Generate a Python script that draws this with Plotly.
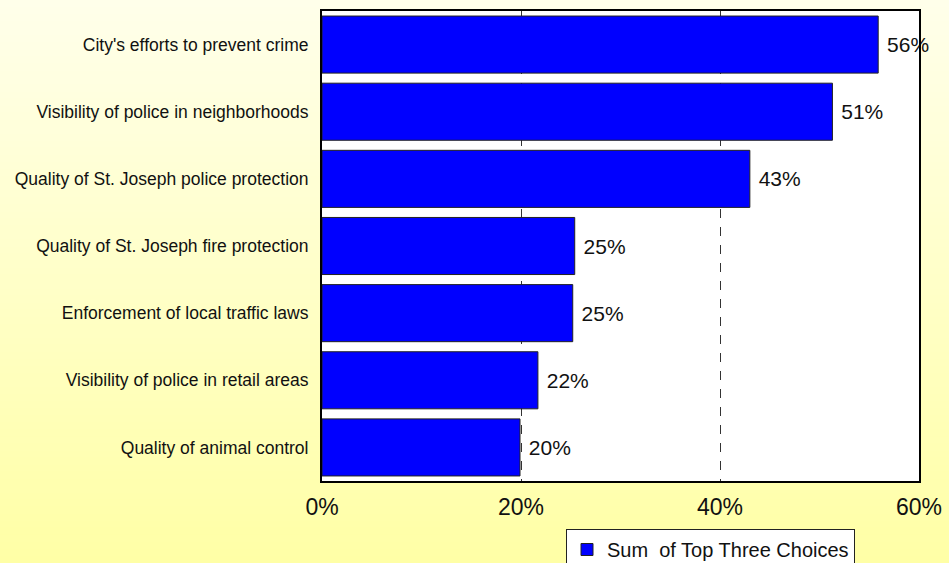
import plotly.graph_objects as go

# Survey items, listed top to bottom
categories = [
    "City's efforts to prevent crime",
    "Visibility of police in neighborhoods",
    "Quality of St. Joseph police protection",
    "Quality of St. Joseph fire protection",
    "Enforcement of local traffic laws",
    "Visibility of police in retail areas",
    "Quality of animal control",
]
# Percent of respondents ranking the item among their top three
values = [55.9, 51.3, 43.0, 25.4, 25.2, 21.7, 19.9]
series_name = "Sum  of Top Three Choices"
tick_values = [0, 20, 40, 60]
tick_labels = ["0%", "20%", "40%", "60%"]

W, H = 949, 563
ML, MR, MT, MB = 322, 30, 11, 82
PW = W - ML - MR
PH = H - MT - MB

fig = go.Figure()
fig.add_trace(go.Bar(
    y=categories,
    x=values,
    orientation="h",
    name=series_name,
    marker=dict(color="#0000FF", line=dict(color="#222222", width=1)),
    text=[f"\u00a0{v:.0f}%" for v in values],
    textposition="outside",
    textfont=dict(family="Liberation Sans, Arial", size=21, color="#111111"),
    cliponaxis=False,
    showlegend=True,
))

# Vertical cream-to-yellow background built from thin strips
shapes = []
n = 80
top = (255, 255, 234)
bot = (255, 255, 166)
for i in range(n):
    t = i / (n - 1)
    c = tuple(round(top[k] + (bot[k] - top[k]) * t) for k in range(3))
    y_top_px = H * i / n
    y_bot_px = H * (i + 1) / n + 1
    shapes.append(dict(
        type="rect", xref="paper", yref="paper", layer="below",
        x0=-ML / PW, x1=(W - ML) / PW,
        y0=(MT + PH - y_bot_px) / PH, y1=(MT + PH - y_top_px) / PH,
        fillcolor=f"rgb{c}", line=dict(width=0),
    ))
# White plotting area over the gradient
shapes.append(dict(
    type="rect", xref="paper", yref="paper", layer="below",
    x0=0, x1=1, y0=0, y1=1, fillcolor="white", line=dict(width=0),
))

fig.update_layout(
    width=W, height=H,
    margin=dict(l=ML, r=MR, t=MT, b=MB, autoexpand=False),
    paper_bgcolor="#FFFFA6",
    plot_bgcolor="white",
    bargap=0.15,
    shapes=shapes,
    font=dict(family="Liberation Sans, Arial", color="#111111"),
    legend=dict(
        x=(566 - ML) / PW, y=(MT + PH - 529) / PH,
        xanchor="left", yanchor="top",
        bgcolor="white", bordercolor="#222222", borderwidth=1,
        font=dict(size=20, color="#111111"),
        itemwidth=30,
        entrywidth=300,
        tracegroupgap=0,
    ),
)
fig.update_xaxes(
    range=[0, 60],
    tickvals=tick_values, ticktext=tick_labels,
    tickfont=dict(size=23, color="#111111"),
    showgrid=True, gridcolor="#333333", griddash="dash", gridwidth=1,
    showline=True, linecolor="black", linewidth=2, mirror=True,
    ticks="", ticklabelstandoff=4,
    zeroline=False,
)
fig.update_yaxes(
    categoryorder="array", categoryarray=categories[::-1],
    tickfont=dict(size=17.5, color="#111111"),
    showline=True, linecolor="black", linewidth=2, mirror=True,
    ticks="", ticklabelstandoff=8,
    showgrid=False,
)

fig.write_html("out.html")
